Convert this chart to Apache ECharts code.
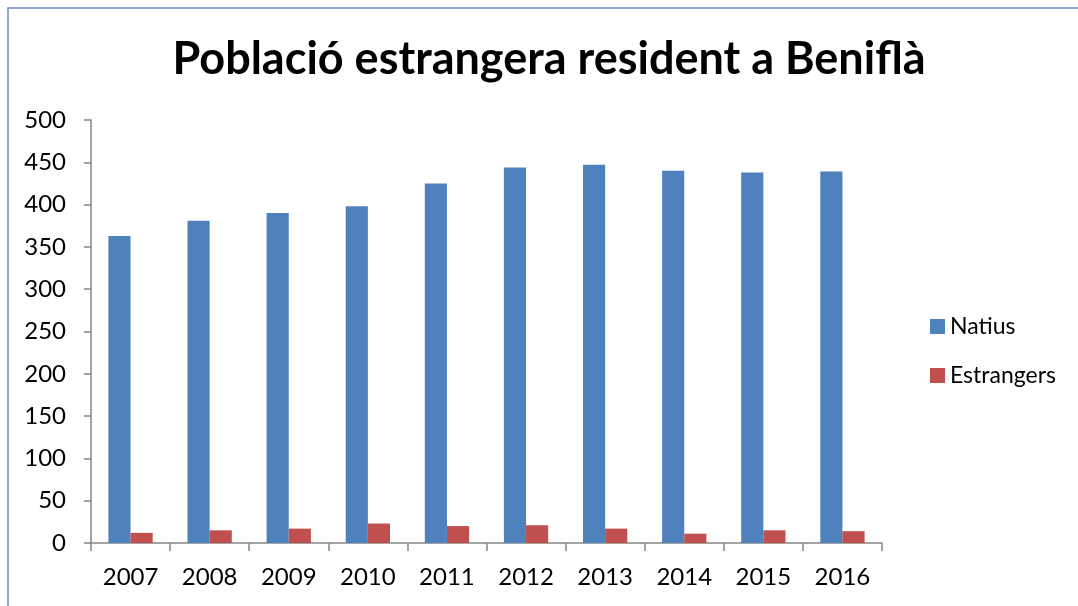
<!DOCTYPE html>
<html>
<head>
<meta charset="utf-8">
<script src="https://cdn.jsdelivr.net/npm/echarts@6/dist/echarts.min.js"></script>
<style>
  html, body { margin: 0; padding: 0; background: #fff; }
  #chart { width: 1078px; height: 606px; }
</style>
</head>
<body>
<div id="chart"></div>
<script>
  var years = ['2007', '2008', '2009', '2010', '2011', '2012', '2013', '2014', '2015', '2016'];
  var natius = [363, 381, 390, 398, 425, 444, 447, 440, 438, 439];
  var estrangers = [12, 15, 17, 23, 20, 21, 17, 11, 15, 14];

  var font = 'Lato, "Open Sans", sans-serif';

  var chart = echarts.init(document.getElementById('chart'), null, { renderer: 'canvas' });

  chart.setOption({
    animation: false,
    textStyle: { fontFamily: font },
    title: {
      text: 'Població estrangera resident a Beniflà',
      left: 544,
      textAlign: 'center',
      top: 32,
      textStyle: { fontSize: 45, fontWeight: 'bold', color: '#000', fontFamily: font }
    },
    graphic: [{
      type: 'rect',
      shape: { x: 8, y: 8, width: 2000, height: 2000 },
      style: { fill: 'none', stroke: '#6a8fc6', lineWidth: 1.5 },
      silent: true
    }],
    legend: {
      orient: 'vertical',
      left: 925,
      top: 310,
      itemWidth: 15,
      itemHeight: 15,
      itemGap: 26,
      icon: 'rect',
      textStyle: { fontSize: 23, color: '#000', fontFamily: font },
      data: ['Natius', 'Estrangers']
    },
    grid: { left: 91, right: 196, top: 120, bottom: 63, containLabel: false },
    xAxis: {
      type: 'category',
      data: years,
      axisLine: { lineStyle: { color: '#868686', width: 1.5 } },
      axisTick: { show: true, length: 8, lineStyle: { color: '#868686', width: 1.5 } },
      axisLabel: { fontSize: 24, color: '#000', margin: 22, fontFamily: font }
    },
    yAxis: {
      type: 'value',
      min: 0,
      max: 500,
      interval: 50,
      axisLine: { show: true, lineStyle: { color: '#868686', width: 1.5 } },
      axisTick: { show: true, length: 7, lineStyle: { color: '#868686', width: 1.5 } },
      splitLine: { show: false },
      axisLabel: { fontSize: 24, color: '#000', margin: 25, fontFamily: font }
    },
    series: [
      {
        name: 'Natius',
        type: 'bar',
        data: natius,
        barWidth: '28%',
        barGap: '0%',
        itemStyle: { color: '#4f81bd' }
      },
      {
        name: 'Estrangers',
        type: 'bar',
        data: estrangers,
        barWidth: '28%',
        itemStyle: { color: '#c0504d' }
      }
    ]
  });
</script>
</body>
</html>
